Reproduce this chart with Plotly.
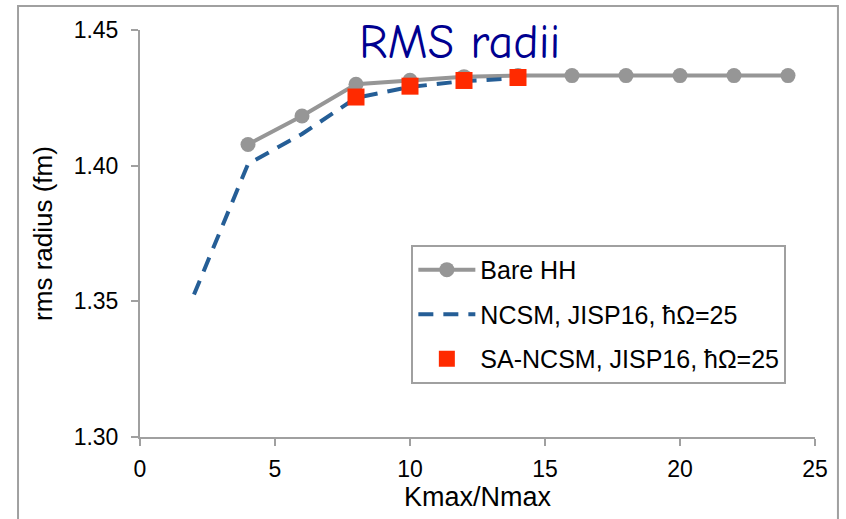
import plotly.graph_objects as go

# Data
bare_x = [4, 6, 8, 10, 12, 14, 16, 18, 20, 22, 24]
bare_y = [1.4078, 1.4183, 1.4300, 1.4315, 1.4328, 1.4332, 1.4332, 1.4332, 1.4332, 1.4332, 1.4332]

ncsm_x = [2, 4, 6, 8, 10, 12, 14]
ncsm_y = [1.3525, 1.4006, 1.4117, 1.4250, 1.4290, 1.4312, 1.4322]

sa_x = [8, 10, 12, 14]
sa_y = [1.4253, 1.4293, 1.4314, 1.4325]

names = ["Bare HH", "NCSM, JISP16, ħΩ=25", "SA-NCSM, JISP16, ħΩ=25"]

x_ticks = [0, 5, 10, 15, 20, 25]
y_ticks = [1.30, 1.35, 1.40, 1.45]

fig = go.Figure()
fig.add_trace(go.Scatter(
    x=bare_x, y=bare_y, name=names[0], mode="lines+markers", legendgroup="a",
    line=dict(color="#969696", width=4),
    marker=dict(color="#969696", size=15, symbol="circle"),
))
fig.add_trace(go.Scatter(
    x=ncsm_x, y=ncsm_y, name=names[1], mode="lines", legendgroup="b",
    line=dict(color="#255E96", width=4, dash="15px,10px"),
))
fig.add_trace(go.Scatter(
    x=sa_x, y=sa_y, name=names[2], mode="markers", legendgroup="c",
    marker=dict(color="#FF2A00", size=17, symbol="square"),
))

axis_common = dict(
    showline=True, linecolor="#A0A0A0", linewidth=2,
    ticks="outside", tickcolor="#A0A0A0", ticklen=7, tickwidth=2,
    showgrid=False, zeroline=False,
    tickfont=dict(family="Liberation Sans, Arial, sans-serif", size=23, color="black"),
)

fig.update_layout(
    width=846, height=519,
    margin=dict(l=140, r=31, t=30, b=82),
    paper_bgcolor="white", plot_bgcolor="white",
    font=dict(family="Liberation Sans, Arial, sans-serif", color="black"),
    xaxis=dict(range=[0, 25], tickvals=x_ticks, ticktext=[str(v) for v in x_ticks],
               ticklabelstandoff=3,
               title=dict(text="Kmax/Nmax", font=dict(size=27), standoff=5),
               **axis_common),
    yaxis=dict(range=[1.30, 1.45], tickvals=y_ticks, ticktext=[f"{v:.2f}" for v in y_ticks],
               ticklabelstandoff=8,
               title=dict(text="rms radius (fm)", font=dict(size=26), standoff=14),
               **axis_common),
    legend=dict(
        x=0.402, y=0.472, xanchor="left", yanchor="top",
        bordercolor="#A0A0A0", borderwidth=2, bgcolor="white",
        font=dict(size=25, family="Liberation Sans, Arial, sans-serif"),
        tracegroupgap=9, itemwidth=57,
    ),
    showlegend=True,
    annotations=[dict(
        text="RMS radii", xref="paper", yref="paper", x=0.474, y=1.0,
        xanchor="center", yanchor="middle", showarrow=False,
        font=dict(family="Comic Sans MS, Comic Neue, DejaVu Sans, sans-serif", size=48, color="#000090"),
        yshift=-12,
    )],
    shapes=[dict(
        type="rect", xref="paper", yref="paper",
        x0=-0.1807, x1=1.034, y0=-0.22, y1=1.059,
        line=dict(color="#A0A0A0", width=2), layer="below",
    )],
)

fig.write_html("out.html")
